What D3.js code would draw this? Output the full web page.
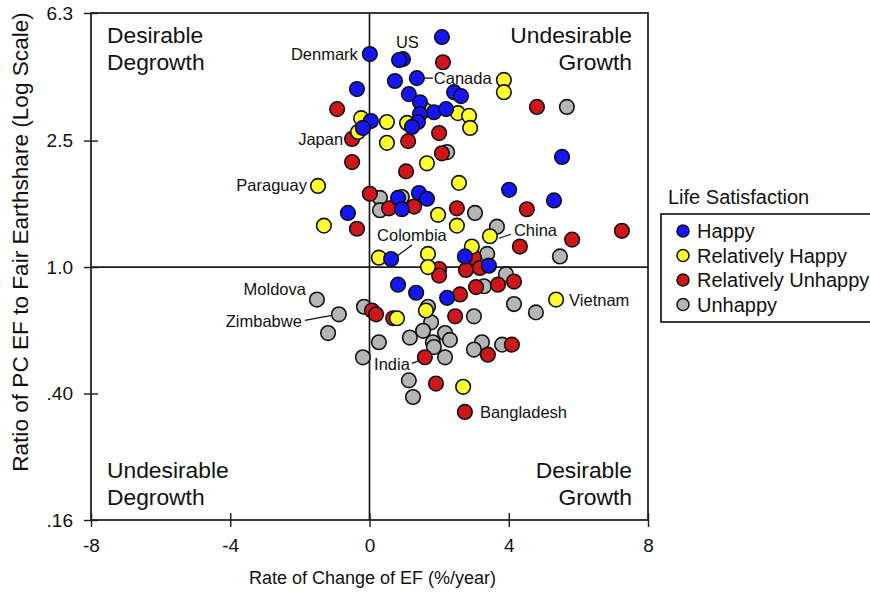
<!DOCTYPE html>
<html>
<head>
<meta charset="utf-8">
<script src="https://cdn.jsdelivr.net/npm/d3@7"></script>
<style>
  body { margin: 0; background: #ffffff; }
  text { font-family: Arial, "Liberation Sans", sans-serif; fill: #111; }
</style>
</head>
<body>
<svg id="chart" width="870" height="596"></svg>
<script>
// Each country: [rate of change of EF (%/year), ratio of per-capita EF to fair Earthshare]
const happy = [
  [2.08, 5.29], [0.01, 4.68], [0.96, 4.51], [0.85, 4.48], [0.73, 3.85], [1.36, 3.93],
  [-0.36, 3.63], [2.43, 3.55], [2.63, 3.45], [1.13, 3.50], [1.45, 3.30], [1.85, 3.07],
  [2.20, 3.14], [1.45, 3.03], [1.39, 2.86], [1.22, 2.76], [0.04, 2.88], [-0.19, 2.74],
  [5.53, 2.22], [4.01, 1.75], [5.30, 1.62], [0.82, 1.65], [1.42, 1.71], [1.65, 1.64],
  [0.93, 1.52], [-0.62, 1.48], [0.62, 1.06], [2.74, 1.08], [3.43, 1.01], [0.82, 0.88],
  [1.34, 0.83], [2.23, 0.80]
];
const relativelyHappy = [
  [3.86, 3.88], [3.86, 3.55], [2.54, 3.05], [2.86, 2.99], [2.89, 2.74], [1.59, 3.12],
  [1.08, 2.84], [0.50, 2.86], [-0.24, 2.94], [-0.33, 2.66], [0.50, 2.46], [1.65, 2.12],
  [2.57, 1.84], [-1.48, 1.80], [1.97, 1.46], [2.51, 1.35], [-1.31, 1.35], [3.46, 1.25],
  [2.94, 1.16], [1.68, 1.10], [1.68, 1.00], [0.27, 1.07], [5.36, 0.79], [1.62, 0.73],
  [0.79, 0.69], [2.69, 0.42]
];
const relativelyUnhappy = [
  [2.11, 4.41], [-0.93, 3.14], [4.81, 3.19], [2.00, 2.64], [-0.50, 2.53], [1.11, 2.49],
  [2.08, 2.28], [-0.50, 2.14], [1.05, 2.00], [0.01, 1.70], [0.56, 1.53], [1.28, 1.55],
  [2.51, 1.53], [4.52, 1.52], [-0.36, 1.32], [7.25, 1.30], [5.82, 1.22], [4.32, 1.16],
  [3.00, 1.07], [2.00, 0.986], [2.00, 0.94], [2.77, 0.979], [3.17, 0.993], [3.69, 0.88],
  [4.15, 0.90], [3.06, 0.865], [2.60, 0.82], [0.07, 0.73], [0.19, 0.71], [0.68, 0.69],
  [2.46, 0.70], [3.40, 0.53], [4.09, 0.57], [1.59, 0.52], [1.91, 0.43], [2.74, 0.35]
];
const unhappy = [
  [5.67, 3.19], [2.23, 2.30], [0.93, 1.66], [0.30, 1.65], [0.30, 1.51], [3.03, 1.48],
  [3.66, 1.34], [3.38, 1.10], [5.47, 1.08], [3.92, 0.95], [3.29, 0.87], [4.15, 0.765],
  [4.78, 0.72], [-1.51, 0.79], [-0.88, 0.71], [-1.19, 0.62], [-0.16, 0.75], [1.68, 0.75],
  [3.00, 0.70], [1.77, 0.67], [1.54, 0.63], [2.17, 0.62], [2.31, 0.59], [1.16, 0.60],
  [0.27, 0.58], [1.82, 0.58], [1.85, 0.56], [3.23, 0.58], [3.00, 0.55], [3.81, 0.57],
  [2.17, 0.52], [-0.19, 0.52], [1.13, 0.44], [1.25, 0.39]
];

const seriesNames = ["Happy", "Relatively Happy", "Relatively Unhappy", "Unhappy"];
const seriesColors = ["#1414ff", "#ffff2e", "#d0161b", "#b5b5b5"];
const seriesData = [happy, relativelyHappy, relativelyUnhappy, unhappy];
// painting order: grey first, blue last
const drawOrder = [3, 2, 1, 0];

const xTicks = [-8, -4, 0, 4, 8];
const xTickLabels = ["-8", "-4", "0", "4", "8"];
const yTicks = [6.3, 2.5, 1.0, 0.40, 0.16];
const yTickLabels = ["6.3", "2.5", "1.0", ".40", ".16"];

const xTitle = "Rate of Change of EF (%/year)";
const yTitle = "Ratio of PC EF to Fair Earthshare (Log Scale)";
const legendTitle = "Life Satisfaction";

// quadrant captions: [line1, line2, corner]
const quadrants = [
  ["Desirable", "Degrowth", "tl"],
  ["Undesirable", "Growth", "tr"],
  ["Undesirable", "Degrowth", "bl"],
  ["Desirable", "Growth", "br"]
];

// country annotations anchored on a point; offsets are in pixels
const countryLabels = [
  { name: "Denmark",    x: 0.01,  y: 4.68, dx: -12, dy: 6,   anchor: "end" },
  { name: "US",         x: 0.96,  y: 4.51, dx: -7,  dy: -11, anchor: "start" },
  { name: "Canada",     x: 1.36,  y: 3.93, dx: 17,  dy: 6,   anchor: "start", lead: [7, 0, 16, 0] },
  { name: "Japan",      x: -0.50, y: 2.53, dx: -9,  dy: 6,   anchor: "end" },
  { name: "Paraguay",   x: -1.48, y: 1.80, dx: -11, dy: 5,   anchor: "end" },
  { name: "Colombia",   x: 0.62,  y: 1.06, dx: -14, dy: -18, anchor: "start", lead: [6, -3, 21, -14] },
  { name: "China",      x: 3.46,  y: 1.25, dx: 24,  dy: 0,   anchor: "start", lead: [9, 2, 21, -2] },
  { name: "Moldova",    x: -1.51, y: 0.79, dx: -11, dy: -5,  anchor: "end" },
  { name: "Zimbabwe",   x: -0.88, y: 0.71, dx: -37, dy: 13,  anchor: "end", lead: [-34, 6, -7, 1] },
  { name: "India",      x: 1.59,  y: 0.52, dx: -15, dy: 13,  anchor: "end", lead: [-13, 6, -5, 3] },
  { name: "Vietnam",    x: 5.36,  y: 0.79, dx: 13,  dy: 6,   anchor: "start" },
  { name: "Bangladesh", x: 2.74,  y: 0.35, dx: 15,  dy: 6,   anchor: "start" }
];

const W = 870, H = 596;
const margin = { top: 13, right: 222, bottom: 76, left: 91 };
const x0 = margin.left, x1 = W - margin.right;
const y0 = margin.top, y1 = H - margin.bottom;

const svg = d3.select("#chart");
const x = d3.scaleLinear().domain([-8, 8]).range([x0, x1]);
const y = d3.scaleLog().domain([0.16, 6.3]).range([y1, y0]);

const lineColor = "#1a1a1a";

// frame
svg.append("rect")
  .attr("x", x0).attr("y", y0)
  .attr("width", x1 - x0).attr("height", y1 - y0)
  .attr("fill", "none").attr("stroke", lineColor).attr("stroke-width", 1.7);

// quadrant dividers
svg.append("line")
  .attr("x1", x(0)).attr("x2", x(0)).attr("y1", y0).attr("y2", y1)
  .attr("stroke", lineColor).attr("stroke-width", 1.7);
svg.append("line")
  .attr("x1", x0).attr("x2", x1).attr("y1", y(1)).attr("y2", y(1))
  .attr("stroke", lineColor).attr("stroke-width", 1.7);

// x axis
const xAxis = svg.append("g")
  .attr("transform", `translate(0,${y1})`)
  .call(d3.axisBottom(x).tickValues(xTicks).tickSizeInner(7).tickSizeOuter(0).tickPadding(12)
    .tickFormat((d, i) => xTickLabels[i]));
xAxis.select(".domain").remove();
xAxis.selectAll(".tick line").attr("y1", -7).attr("stroke", lineColor).attr("stroke-width", 1.4);
xAxis.selectAll(".tick text").attr("font-size", 19).attr("fill", "#111")
  .attr("font-family", "Arial, 'Liberation Sans', sans-serif");

// y axis
const yAxis = svg.append("g")
  .attr("transform", `translate(${x0},0)`)
  .call(d3.axisLeft(y).tickValues(yTicks).tickSizeInner(7).tickSizeOuter(0).tickPadding(11)
    .tickFormat((d, i) => yTickLabels[i]));
yAxis.select(".domain").remove();
yAxis.selectAll(".tick line").attr("x1", 7).attr("stroke", lineColor).attr("stroke-width", 1.4);
yAxis.selectAll(".tick text").attr("font-size", 19).attr("fill", "#111")
  .attr("font-family", "Arial, 'Liberation Sans', sans-serif");

// axis titles
svg.append("text")
  .attr("x", (x0 + x1) / 2 + 3).attr("y", 584)
  .attr("text-anchor", "middle").attr("font-size", 18)
  .text(xTitle);
svg.append("text")
  .attr("transform", `translate(28,${242}) rotate(-90)`)
  .attr("text-anchor", "middle").attr("font-size", 22.6)
  .text(yTitle);

// quadrant captions
const qFont = 22.8;
quadrants.forEach(([a, b, pos]) => {
  const left = pos[1] === "l";
  const top = pos[0] === "t";
  const tx = left ? x0 + 16 : x1 - 16;
  const ty = top ? y0 + 30 : y1 - 42;
  const t = svg.append("text")
    .attr("text-anchor", left ? "start" : "end")
    .attr("font-size", qFont);
  t.append("tspan").attr("x", tx).attr("y", ty).text(a);
  t.append("tspan").attr("x", tx).attr("y", ty + 27).text(b);
});

// points
const pts = svg.append("g");
drawOrder.forEach(si => {
  pts.selectAll(null)
    .data(seriesData[si])
    .enter().append("circle")
    .attr("cx", d => x(d[0]))
    .attr("cy", d => y(d[1]))
    .attr("r", 7.3)
    .attr("fill", seriesColors[si])
    .attr("stroke", "#111")
    .attr("stroke-width", 1.6);
});

// country annotations
const ann = svg.append("g");
countryLabels.forEach(c => {
  const px = x(c.x), py = y(c.y);
  if (c.lead) {
    ann.append("line")
      .attr("x1", px + c.lead[0]).attr("y1", py + c.lead[1])
      .attr("x2", px + c.lead[2]).attr("y2", py + c.lead[3])
      .attr("stroke", "#111").attr("stroke-width", 1.3);
  }
  ann.append("text")
    .attr("x", px + c.dx).attr("y", py + c.dy)
    .attr("text-anchor", c.anchor)
    .attr("font-size", 16.5)
    .text(c.name);
});

// legend
const lg = svg.append("g");
lg.append("text").attr("x", 668).attr("y", 204).attr("font-size", 20).text(legendTitle);
lg.append("rect")
  .attr("x", 661).attr("y", 214).attr("width", 240).attr("height", 108)
  .attr("fill", "none").attr("stroke", lineColor).attr("stroke-width", 1.7);
seriesNames.forEach((name, i) => {
  const cy = 231 + i * 24.5;
  lg.append("circle").attr("cx", 683).attr("cy", cy).attr("r", 6)
    .attr("fill", seriesColors[i]).attr("stroke", "#111").attr("stroke-width", 1.5);
  lg.append("text").attr("x", 697).attr("y", cy + 7).attr("font-size", 20).text(name);
});
</script>
</body>
</html>
